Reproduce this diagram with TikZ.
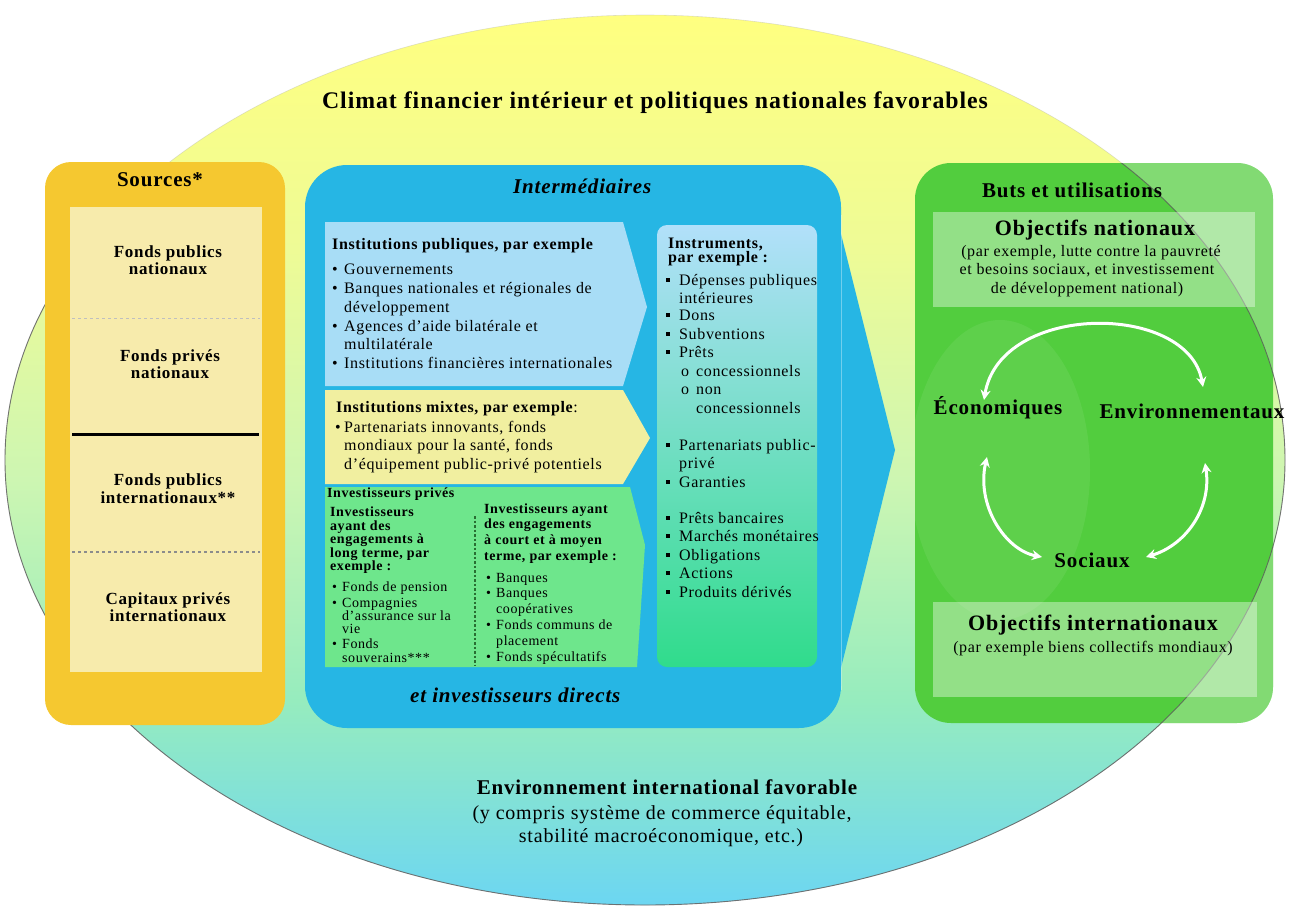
\documentclass[tikz,border=0pt]{standalone}
\usepackage{fontspec}
\setmainfont{Liberation Serif}[LetterSpace=4]
\usetikzlibrary{arrows.meta}
\definecolor{cA}{RGB}{255,255,128}
\definecolor{cB}{RGB}{238,251,150}
\definecolor{cC}{RGB}{205,246,178}
\definecolor{cD}{RGB}{150,236,190}
\definecolor{cE}{RGB}{108,214,242}
\definecolor{gold}{RGB}{245,200,48}
\definecolor{goldin}{RGB}{247,235,172}
\definecolor{bluebox}{RGB}{38,182,228}
\definecolor{pubc}{RGB}{168,221,246}
\definecolor{mixc}{RGB}{241,239,160}
\definecolor{privc}{RGB}{110,230,140}
\definecolor{insT}{RGB}{178,224,250}
\definecolor{insM}{RGB}{240,242,165}
\definecolor{insB}{RGB}{48,220,140}
\definecolor{greenbox}{RGB}{82,205,62}
\definecolor{sepc}{RGB}{40,110,50}
\pgfdeclareverticalshading{ellsh}{100bp}{color(0bp)=(cE); color(25bp)=(cE); color(36.5bp)=(cD); color(48.9bp)=(cC); color(61.8bp)=(cB); color(75bp)=(cA); color(100bp)=(cA)}
\tikzset{
  hd/.style={inner sep=0pt, font=\fontsize{16}{19}\selectfont\bfseries},
  bd/.style={inner sep=0pt, font=\fontsize{16}{19}\selectfont},
  sh/.style={inner sep=0pt, font=\fontsize{14}{15}\selectfont\bfseries},
  sb/.style={inner sep=0pt, font=\fontsize{14}{15}\selectfont},
  src/.style={inner sep=0pt, font=\fontsize{17}{18}\selectfont\bfseries},
  big/.style={inner sep=0pt, font=\fontsize{21}{24}\selectfont\bfseries},
  bigit/.style={inner sep=0pt, font=\fontsize{21}{24}\selectfont\bfseries\itshape},
  cyc/.style={white, line width=3pt, {Stealth[length=10pt,width=10pt]}-{Stealth[length=10pt,width=10pt]}},
  sq/.style={fill=black, minimum size=4.5pt, inner sep=0pt},
}
\begin{document}
\begin{tikzpicture}[x=1pt,y=-1pt]
\useasboundingbox (0,0) rectangle (1291,911);
\fill[white] (0,0) rectangle (1291,911);
% background ellipse
\shade[shading=ellsh] (645,460) ellipse [x radius=640pt, y radius=445pt];
\draw[black!30, line width=0.6pt, opacity=.4] (645,460) ellipse [x radius=640pt, y radius=445pt];
\begin{scope}
  \clip (0,290) rectangle (1291,911);
  \draw[black!65, line width=0.9pt, opacity=.8] (645,460) ellipse [x radius=640pt, y radius=445pt];
\end{scope}

% ===== Sources column
\fill[gold, rounded corners=26pt] (45,162) rectangle (285,725);
\fill[goldin] (70,207) rectangle (262,672);
\draw[black!25, dashed, line width=1pt] (72,318) -- (260,318);
\draw[black, line width=3pt] (72,434) -- (259,434);
\draw[black!45, dashed, line width=2pt] (72,552) -- (260,552);
\node[big, anchor=base] (srcT) at (160,186) {Sources*};
\node[src, anchor=base] (s1a) at (168,257) {Fonds publics};
\node[src, anchor=base] (s1b) at (168,274) {nationaux};
\node[src, anchor=base] (s2a) at (170,361) {Fonds privés};
\node[src, anchor=base] (s2b) at (170,378) {nationaux};
\node[src, anchor=base] (s3a) at (168,485) {Fonds publics};
\node[src, anchor=base] (s3b) at (168,503) {internationaux**};
\node[src, anchor=base] (s4a) at (168,604) {Capitaux privés};
\node[src, anchor=base] (s4b) at (168,621) {internationaux};

% ===== Intermediaries
\fill[bluebox, rounded corners=42pt] (305,165) rectangle (841,728);
\fill[bluebox] (838,222) -- (895,450) -- (838,680) -- cycle;
\draw[white, opacity=.35, line width=1pt] (841,215) -- (841,690);
\fill[pubc] (325,222) -- (623,222) -- (647,307) -- (623,386) -- (325,386) -- cycle;
\fill[mixc] (325,390) -- (623,390) -- (650,438) -- (623,484) -- (325,484) -- cycle;
\fill[privc] (325,487) -- (630,487) -- (645,545) -- (637,667) -- (325,667) -- cycle;
\shade[top color=insT, middle color=insM, bottom color=insB, rounded corners=10pt] (657,225) rectangle (817,667);
\draw[sepc, dotted, line width=2.5pt] (475,516) -- (475,665);

\node[bigit, anchor=base west] (interT) at (513,193) {Intermédiaires};
\node[bigit, anchor=base west] (interB) at (410,702) {et investisseurs directs};

% public institutions
\node[hd, anchor=base west] (pubT) at (332,249) {Institutions publiques, par exemple};
\foreach \yy/\tx/\b in {274/Gouvernements/1, 293/{Banques nationales et régionales de}/1, 312/développement/0, 331/{Agences d’aide bilatérale et}/1, 349/multilatérale/0, 368/{Institutions financières internationales}/1}{
  \node[bd, anchor=base west] (pub\yy) at (344,\yy) {\tx};
  \ifnum\b=1 \node[bd, anchor=base west] (pubb\yy) at (332,\yy) {\textbullet};\fi
}
% mixed institutions
\node[hd, anchor=base west] (mixT) at (336,412) {Institutions mixtes, par exemple\textmd{:}};
\node[bd, anchor=base west] (mixb) at (335,432) {\textbullet};
\foreach \yy/\tx in {432/{Partenariats innovants, fonds}, 450/{mondiaux pour la santé, fonds}, 469/{d’équipement public-privé potentiels}}{
  \node[bd, anchor=base west] (mix\yy) at (344,\yy) {\tx};
}
% private investors
\node[sh, anchor=base west] (privT) at (327,497) {Investisseurs privés};
\foreach \yy/\tx in {516/Investisseurs, 530/ayant des, 543/engagements à, 557/{long terme, par}, 570/exemple :}{
  \node[sh, anchor=base west] (lt\yy) at (330,\yy) {\tx};
}
\foreach \yy/\tx/\b in {591/Fonds de pension/1, 607/Compagnies/1, 620/d’assurance sur la/0, 633/vie/0, 648/Fonds/1, 662/souverains***/0}{
  \node[sb, anchor=base west] (ltb\yy) at (342,\yy) {\tx};
  \ifnum\b=1 \node[sb, anchor=base west] (ltd\yy) at (332,\yy) {\textbullet};\fi
}
\foreach \yy/\tx in {513/Investisseurs ayant, 528/des engagements, 544/à court et à moyen, 560/{terme, par exemple :}}{
  \node[sh, anchor=base west] (st\yy) at (484,\yy) {\tx};
}
\foreach \yy/\tx/\b in {582/Banques/1, 597/Banques/1, 613/coopératives/0, 629/Fonds communs de/1, 645/placement/0, 661/Fonds spécultatifs/1}{
  \node[sb, anchor=base west] (stb\yy) at (496,\yy) {\tx};
  \ifnum\b=1 \node[sb, anchor=base west] (std\yy) at (486,\yy) {\textbullet};\fi
}
% instruments
\node[hd, anchor=base west] (insT1) at (668,248) {Instruments,};
\node[hd, anchor=base west] (insT2) at (668,262) {par exemple :};
\foreach \yy/\tx/\b in {285/Dépenses publiques/1, 303/intérieures/0, 320/Dons/1, 339/Subventions/1, 357/Prêts/1, 450/Partenariats public-/1, 468/privé/0, 487/Garanties/1, 523/Prêts bancaires/1, 541/Marchés monétaires/1, 560/Obligations/1, 578/Actions/1, 597/Produits dérivés/1}{
  \node[bd, anchor=base west] (ins\yy) at (679,\yy) {\tx};
  \ifnum\b=1 \node[sq] (insq\yy) at (668,\yy-5) {};\fi
}
\foreach \yy/\tx/\b in {376/concessionnels/1, 394/non/1, 413/concessionnels/0}{
  \node[bd, anchor=base west] (sub\yy) at (696,\yy) {\tx};
  \ifnum\b=1 \node[bd, anchor=base west] (subo\yy) at (681,\yy) {o};\fi
}

% ===== Goals
\fill[greenbox, rounded corners=36pt] (915,163) rectangle (1273,723);
\begin{scope}
  \clip[rounded corners=36pt] (915,163) rectangle (1273,723);
  \fill[white, opacity=.28, even odd rule] (900,150) rectangle (1291,740) (645,460) ellipse [x radius=640pt, y radius=445pt];
  \fill[white, opacity=.07] (1000,470) ellipse [x radius=90pt, y radius=150pt];
  \draw[black!65, line width=0.9pt, opacity=.8] (645,460) ellipse [x radius=640pt, y radius=445pt];
\end{scope}
\fill[white, opacity=.38] (933,212) rectangle (1255,307);
\fill[white, opacity=.38] (933,602) rectangle (1257,697);
\node[big, anchor=base] (butsT) at (1072,197) {Buts et utilisations};
\node[inner sep=0pt, font=\fontsize{22}{24}\selectfont\bfseries, anchor=base] (onT) at (1095,235) {Objectifs nationaux};
\node[bd, anchor=base] (on1) at (1091,256) {(par exemple, lutte contre la pauvreté};
\node[bd, anchor=base] (on2) at (1087,274) {et besoins sociaux, et investissement};
\node[bd, anchor=base] (on3) at (1087,293) {de développement national)};
\node[big, anchor=base] (eco) at (998,414) {Économiques};
\node[big, anchor=base] (env) at (1192,418) {Environnementaux};
\node[big, anchor=base] (soc) at (1092,567) {Sociaux};
\node[inner sep=0pt, font=\fontsize{22}{24}\selectfont\bfseries, anchor=base] (oiT) at (1093,630) {Objectifs internationaux};
\node[bd, anchor=base] (oi1) at (1093,652) {(par exemple biens collectifs mondiaux)};
\coordinate (ecoTop) at (984,400);
\coordinate (envTop) at (1203,387);
\coordinate (ecoBot) at (987,457);
\coordinate (envBot) at (1205,463);
\coordinate (socL) at (1042,557);
\coordinate (socR) at (1146,557);
\draw[cyc] (ecoTop) .. controls (1000,302) and (1188,302) .. (envTop);
\draw[cyc] (ecoBot) .. controls (976,505) and (1005,550) .. (socL);
\draw[cyc] (envBot) .. controls (1212,508) and (1186,545) .. (socR);

% ===== outer texts
\node[inner sep=0pt, font=\fontsize{23.8}{27}\selectfont\bfseries, anchor=base] (climat) at (655,108) {Climat financier intérieur et politiques nationales favorables};
\node[inner sep=0pt, font=\fontsize{21}{24}\selectfont\bfseries, anchor=base] (envI) at (667,794) {Environnement international favorable};
\node[inner sep=0pt, font=\fontsize{20}{23}\selectfont, anchor=base] (envI2) at (662,819) {(y compris système de commerce équitable,};
\node[inner sep=0pt, font=\fontsize{20}{23}\selectfont, anchor=base] (envI3) at (661,842) {stabilité macroéconomique, etc.)};
\end{tikzpicture}
\end{document}
